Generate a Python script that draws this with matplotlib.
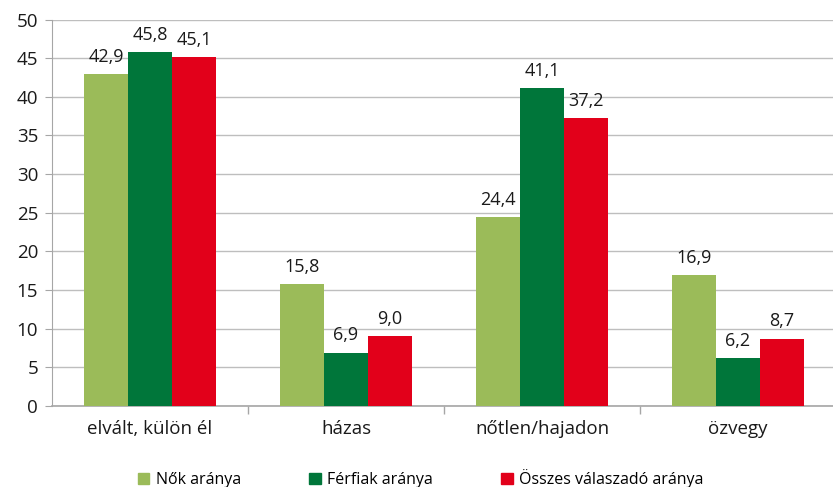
import numpy as np
import matplotlib
matplotlib.use('Agg')
import matplotlib.pyplot as plt
import matplotlib.patches as mpatches

categories = ['elvált, külön él', 'házas', 'nőtlen/hajadon', 'özvegy']
series_names = ['Nők aránya', 'Férfiak aránya', 'Összes válaszadó aránya']
nok = [42.9, 15.8, 24.4, 16.9]
ferfiak = [45.8, 6.9, 41.1, 6.2]
osszes = [45.1, 9.0, 37.2, 8.7]
colors = ['#9BBB59', '#00763A', '#E2001A']

plt.rcParams['font.family'] = ['Open Sans', 'DejaVu Sans']

fig = plt.figure(figsize=(8.33, 4.87), dpi=100)
ax = fig.add_axes([52 / 833, 81 / 487, 784 / 833, 386.5 / 487])

x = np.arange(len(categories)) + 0.5
width = 44 / 196
for i, (vals, col) in enumerate(zip([nok, ferfiak, osszes], colors)):
    pos = x + (i - 1) * width
    bars = ax.bar(pos, vals, width=width, color=col, zorder=3)
    for b, v in zip(bars, vals):
        ax.annotate(f'{v:.1f}'.replace('.', ','), xy=(b.get_x() + b.get_width() / 2, v),
                    xytext=(0, 6), textcoords='offset points',
                    ha='center', va='bottom', fontsize=13, color='#1a1a1a')

ax.set_xlim(0, 4)
ax.set_ylim(0, 50)
ax.set_yticks(range(0, 51, 5))
ax.yaxis.grid(True, color='#BEBEBE', linewidth=1, zorder=0)
ax.set_xticks([1, 2, 3])
ax.set_xticklabels([])
ax.set_xticks(x, minor=True)
ax.set_xticklabels(categories, minor=True)
ax.tick_params(axis='x', which='minor', length=0, pad=10, labelsize=13.5, labelcolor='#1a1a1a')
ax.tick_params(axis='x', which='major', length=6, color='#A6A6A6', width=1)
ax.tick_params(axis='y', length=5, color='#A6A6A6', labelsize=13.5, labelcolor='#1a1a1a', pad=5)

for side in ['top', 'right']:
    ax.spines[side].set_visible(False)
ax.spines['left'].set_color('#A6A6A6')
ax.spines['bottom'].set_color('#A6A6A6')
ax.spines['bottom'].set_linewidth(1.2)

handles = [mpatches.Patch(color=c, label=n) for c, n in zip(colors, series_names)]
fig.legend(handles=handles, loc='lower center', bbox_to_anchor=(0.505, -0.032), ncol=3,
           frameon=False, fontsize=11.5, handlelength=0.7, handleheight=0.7,
           handletextpad=0.4, columnspacing=4.3)

fig.savefig('out.png', dpi=100)
